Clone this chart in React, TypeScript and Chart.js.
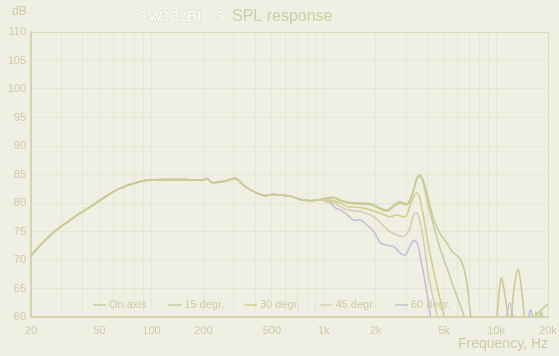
import { useEffect, useRef } from "react";
import { Chart, registerables } from "chart.js";
Chart.register(...registerables);

const seriesLabels = ["On axis", "15 degr.", "30 degr.", "45 degr.", "60 degr."];
const seriesColors = ["#c9cc96", "#c3cf9e", "#d3cf8a", "#d8cfae", "#c6bed6"];

// shared low-frequency response (all angles identical)
const lowFreq = [20, 23, 26, 29, 32, 36, 40, 45, 50, 56, 63, 71, 80, 90, 100, 125, 160, 200, 210, 225, 250, 280, 310, 340, 376, 420, 460, 500, 560, 640, 730, 840, 957];
const lowDb = [70.8, 72.8, 74.4, 75.6, 76.5, 77.6, 78.5, 79.5, 80.4, 81.4, 82.3, 83.0, 83.5, 83.9, 84.05, 84.1, 84.1, 84.0, 84.3, 83.6, 83.7, 84.0, 84.3, 83.2, 82.3, 81.6, 81.3, 81.5, 81.4, 81.2, 80.6, 80.4, 80.6];

const onAxisFreq = [1050, 1140, 1250, 1430, 1630, 1870, 2130, 2340, 2600, 2780, 3050, 3260, 3480, 3620, 3770, 3970, 4300, 4710, 5170, 5600, 6140, 6500, 6800, 7000, 7300, 8000, 9500, 10000, 10300, 10700, 11100, 11600, 12000, 12400, 12900, 13400, 13900, 14500, 15200, 16000, 16900, 20000];
const onAxisDb = [80.9, 81.0, 80.5, 80.1, 80.0, 79.9, 79.1, 78.8, 79.9, 80.2, 79.9, 81.7, 84.5, 84.9, 84.0, 81.7, 77.5, 74.7, 73.0, 71.4, 70.3, 68.5, 65.5, 62.0, 58.0, 50, 50, 57, 63, 66.8, 65, 61, 58.5, 62, 66.5, 68.4, 66, 61, 56, 55, 60, 62.3];

const deg15Freq = [1050, 1140, 1250, 1430, 1630, 1870, 2130, 2340, 2600, 2780, 3050, 3260, 3480, 3620, 3770, 3970, 4300, 4700, 5200, 5700, 6200, 6600, 7000, 9000, 16200, 17000, 17600, 18300, 19000];
const deg15Db = [80.8, 80.9, 80.4, 79.9, 79.8, 79.7, 78.9, 78.6, 79.6, 79.9, 79.7, 81.4, 84.2, 84.7, 83.6, 80.5, 76.5, 72.3, 68.5, 65.0, 62.0, 59.5, 55, 50, 55, 60.8, 59, 60.8, 58];

const deg30Freq = [1000, 1095, 1250, 1370, 1700, 2130, 2420, 2650, 2980, 3190, 3420, 3560, 3790, 4020, 4330, 4730, 5000, 5400];
const deg30Db = [80.5, 80.5, 80.0, 79.4, 79.1, 78.2, 77.6, 77.9, 77.6, 79.9, 81.7, 81.4, 77.6, 73.0, 68.2, 63.0, 60.0, 55];

const deg45Freq = [1000, 1095, 1370, 1630, 1950, 2130, 2420, 2650, 2900, 3130, 3330, 3480, 3630, 3790, 3970, 4250, 4460, 4600, 5000];
const deg45Db = [80.4, 80.3, 78.8, 78.5, 77.6, 76.5, 75.0, 74.4, 74.1, 75.3, 77.9, 78.2, 76.5, 73.5, 68.8, 64.2, 61.5, 59.0, 55];

const deg60Freq = [1000, 1095, 1170, 1250, 1370, 1490, 1630, 1790, 1950, 2130, 2340, 2560, 2780, 2980, 3190, 3330, 3480, 3630, 3790, 3970, 4100, 4300, 5000, 11000, 11500, 12000, 12500, 13000, 15000, 15800, 16500, 17500];
const deg60Db = [80.4, 80.0, 79.1, 78.8, 77.9, 77.0, 77.0, 76.1, 75.0, 73.0, 72.6, 72.3, 71.2, 70.9, 72.6, 73.4, 73.0, 70.6, 67.7, 64.2, 61.5, 58, 50, 55, 60, 62.5, 60, 55, 58, 61.2, 59, 55];

const gridFreqs = [20, 30, 40, 50, 60, 70, 80, 90, 100, 200, 300, 400, 500, 600, 700, 800, 900, 1000, 2000, 3000, 4000, 5000, 6000, 7000, 8000, 9000, 10000, 20000];
const labelFreqs = [20, 50, 100, 200, 500, 1000, 2000, 5000, 10000, 20000];
const labelTexts = ["20", "50", "100", "200", "500", "1k", "2k", "5k", "10k", "20k"];

const textColor = "#cccca6";
const FONT = "'Liberation Sans', Arial, sans-serif";

function build(freq: number[], db: number[]) {
  const pts = lowFreq.map((f, i) => ({ x: f, y: lowDb[i] }));
  return pts.concat(freq.map((f, i) => ({ x: f, y: db[i] })));
}

export default function App() {
  const ref = useRef<HTMLCanvasElement>(null);
  useEffect(() => {
    document.body.style.margin = "0";
    const series = [
      build(onAxisFreq, onAxisDb),
      build(deg15Freq, deg15Db),
      build(deg30Freq, deg30Db),
      build(deg45Freq, deg45Db),
      build(deg60Freq, deg60Db),
    ];
    const decor = {
      id: "decor",
      afterDraw(chart: any) {
        const ctx = chart.ctx;
        const a = chart.chartArea;
        ctx.save();
        ctx.strokeStyle = "#dcdcbc";
        ctx.lineWidth = 1;
        ctx.beginPath();
        ctx.moveTo(a.left, a.top + 0.5);
        ctx.lineTo(a.right + 0.5, a.top + 0.5);
        ctx.lineTo(a.right + 0.5, a.bottom);
        ctx.stroke();
        // legend
        ctx.font = `11px ${FONT}`;
        ctx.textBaseline = "middle";
        ctx.textAlign = "left";
        const ly = 305;
        seriesLabels.forEach((lab, i) => {
          const x0 = 93 + i * 75.5;
          ctx.strokeStyle = seriesColors[i];
          ctx.lineWidth = 1.5;
          ctx.beginPath();
          ctx.moveTo(x0, ly);
          ctx.lineTo(x0 + 13, ly);
          ctx.stroke();
          ctx.fillStyle = textColor;
          ctx.fillText(lab, x0 + 16, ly);
        });
        // titles
        ctx.font = `15px ${FONT}`;
        ctx.textAlign = "left";
        ctx.lineWidth = 1;
        ctx.strokeStyle = "#d6d6ce";
        ctx.fillStyle = "#ffffff";
        ctx.strokeText("SW182BD03", 138, 17);
        ctx.fillText("SW182BD03", 138, 17);
        ctx.font = `16px ${FONT}`;
        ctx.fillStyle = "#ccd0a4";
        ctx.fillText("SPL response", 232, 17);
        ctx.font = `12px ${FONT}`;
        ctx.fillStyle = textColor;
        ctx.fillText("dB", 12, 12);
        ctx.font = `14px ${FONT}`;
        ctx.textAlign = "right";
        ctx.fillText("Frequency, Hz", 548, 344);
        ctx.restore();
      },
    };
    const chart = new Chart(ref.current!, {
      type: "line",
      data: {
        datasets: series.map((d, i) => ({
          label: seriesLabels[i],
          data: d,
          borderColor: seriesColors[i],
          borderWidth: 1.6,
          pointRadius: 0,
          tension: 0.35,
          fill: false,
        })),
      },
      options: {
        animation: false,
        responsive: false,
        layout: { padding: { top: 32, right: 11, left: 0, bottom: 0 } },
        plugins: { legend: { display: false }, tooltip: { enabled: false } },
        scales: {
          x: {
            type: "logarithmic",
            min: 20,
            max: 20000,
            afterBuildTicks: (s: any) => {
              s.ticks = gridFreqs.map((v) => ({ value: v }));
            },
            afterFit: (s: any) => {
              s.height = 39;
              s.paddingRight = 0;
              s.paddingLeft = 0;
            },
            ticks: {
              autoSkip: false,
              maxRotation: 0,
              padding: 7,
              color: textColor,
              font: { family: FONT, size: 11 },
              callback: (v: any) => {
                const k = labelFreqs.indexOf(Number(v));
                return k >= 0 ? labelTexts[k] : "";
              },
            },
            grid: { color: "#e7e7d5", lineWidth: 1, drawTicks: false },
            border: { color: "#d4d4b0", width: 2 },
          },
          y: {
            min: 60,
            max: 110,
            afterFit: (s: any) => {
              s.width = 31;
              s.paddingTop = 0;
              s.paddingBottom = 0;
            },
            ticks: {
              stepSize: 5,
              padding: 5,
              color: textColor,
              font: { family: FONT, size: 11 },
            },
            grid: { color: "#e7e7d5", lineWidth: 1, drawTicks: false },
            border: { color: "#d4d4b0", width: 2 },
          },
        },
      },
      plugins: [decor],
    });
    return () => chart.destroy();
  }, []);
  return (
    <div style={{ width: 559, height: 356, background: "#efefe4" }}>
      <canvas ref={ref} width={559} height={356} style={{ display: "block" }} />
    </div>
  );
}
